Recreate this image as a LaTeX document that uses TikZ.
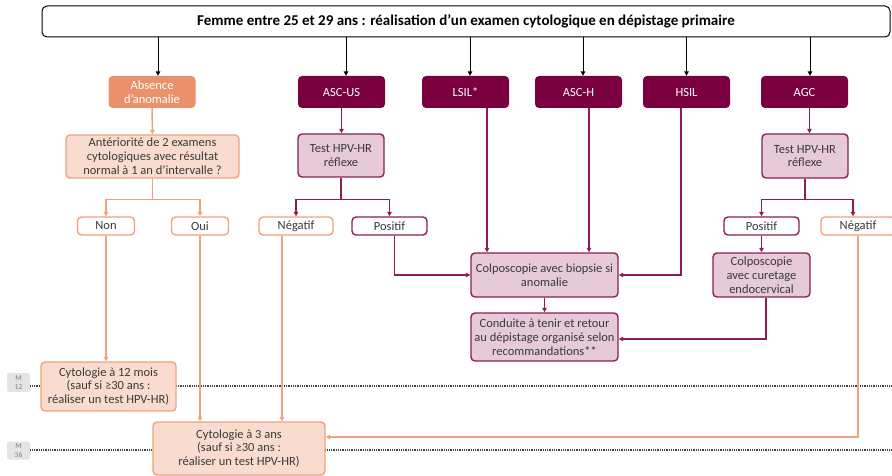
\documentclass[tikz,border=0pt]{standalone}
\usepackage{fontspec}
\setmainfont{Carlito}
\usetikzlibrary{arrows.meta,calc}
\definecolor{dpur}{HTML}{7A0040}
\definecolor{lpur}{HTML}{E6CAD8}
\definecolor{bpur}{HTML}{8C1D58}
\definecolor{org}{HTML}{E8916A}
\definecolor{lorg}{HTML}{F9DCCF}
\definecolor{borg}{HTML}{F0A27C}
\definecolor{txt}{HTML}{3A3A3A}
\definecolor{mgrey}{HTML}{E4E4E4}
\begin{document}
\begin{tikzpicture}[x=1pt,y=-1pt,
  box/.style={rectangle, rounded corners=4pt, inner sep=1pt, align=center, text=txt,
    font=\fontsize{12.5}{13.8}\selectfont},
  cat/.style={box, fill=dpur, text=white, minimum width=87, minimum height=32},
  orgbox/.style={box, fill=lorg, draw=borg, line width=1.4pt},
  purbox/.style={box, fill=lpur, draw=bpur, line width=1.4pt},
  orgw/.style={box, fill=white, draw=borg, line width=1.4pt, minimum height=18},
  purw/.style={box, fill=white, draw=bpur, line width=1.4pt, minimum height=18},
  tip/.style={-{Triangle[length=4.5pt,width=4.5pt]}},
  karr/.style={draw=black, line width=1pt, tip},
  oarr/.style={draw=borg, line width=1.5pt, tip},
  parr/.style={draw=bpur, line width=1.5pt, tip},
  mlab/.style={rectangle, rounded corners=2pt, fill=mgrey, text=gray, align=center,
    inner sep=0pt, minimum width=23, font=\fontsize{7.5}{8.5}\selectfont},
  dotline/.style={draw=black!75, line width=1.1pt, dash pattern=on 0.9pt off 0.9pt}
]
\useasboundingbox (0,0) rectangle (892,476);

% time lines
\node[mlab, minimum height=19] (m12) at (18.5,382.5) {M\\12};
\node[mlab, minimum height=18] (m36) at (18.5,450.5) {M\\36};
\coordinate (e12) at (892,386);
\coordinate (e36) at (892,450);
\draw[dotline] (m12.east |- e12) -- (e12);
\draw[dotline] (m36.east |- e36) -- (e36);

% header
\node[box, draw=black, line width=1pt, fill=white, rounded corners=5pt,
  minimum width=848, minimum height=31, text=black,
  font=\fontsize{15}{17}\selectfont\bfseries] (head) at (466,21.5)
  {Femme entre 25 et 29 ans : réalisation d’un examen cytologique en dépistage primaire};

% categories
\node[cat, fill=org, text=white] (abs) at (152,92) {Absence\\d’anomalie};
\node[cat] (ascus) at (341.5,92) {ASC-US};
\node[cat] (lsil) at (465.5,92) {LSIL*};
\node[cat] (asch) at (578.5,92) {ASC-H};
\node[cat] (hsil) at (686.5,92) {HSIL};
\node[cat] (agc) at (804.5,92) {AGC};

% left branch
\node[orgbox, minimum width=173, minimum height=43] (ant) at (152.5,156.5)
  {Antériorité de 2 examens\\cytologiques avec résultat\\normal à 1 an d’intervalle ?};
\node[orgw, minimum width=57] (non) at (106,226) {Non};
\node[orgw, minimum width=57] (oui) at (200,226) {Oui};
\node[orgbox, minimum width=135, minimum height=49] (cyt12) at (108.5,386.5)
  {Cytologie à 12 mois\\(sauf si ≥30 ans :\\réaliser un test HPV-HR)};
\node[orgbox, minimum width=172, minimum height=53] (cyt3) at (239,448.5)
  {Cytologie à 3 ans\\(sauf si ≥30 ans :\\réaliser un test HPV-HR)};

% ASC-US branch
\node[purbox, minimum width=86, minimum height=43] (hpv1) at (341,155.5) {Test HPV-HR\\réflexe};
\node[orgw, minimum width=74] (neg1) at (296,226) {Négatif};
\node[purw, minimum width=75] (pos1) at (389.5,226) {Positif};

% colposcopy
\node[purbox, minimum width=147, minimum height=44] (colpo) at (544.5,275)
  {Colposcopie avec biopsie si\\anomalie};
\node[purbox, minimum width=147, minimum height=48] (cond) at (544.5,337)
  {Conduite à tenir et retour\\au dépistage organisé selon\\recommandations**};

% AGC branch
\node[purbox, minimum width=86, minimum height=44] (hpv2) at (805,156) {Test HPV-HR\\réflexe};
\node[purw, minimum width=75] (pos2) at (761.5,226) {Positif};
\node[orgw, minimum width=74] (neg2) at (858,226) {Négatif};
\node[purbox, minimum width=97, minimum height=44] (colpo2) at (761.5,275)
  {Colposcopie\\avec curetage\\endocervical};

% header arrows
\draw[karr] ([xshift=6]abs.north |- head.south) -- ([xshift=6]abs.north);
\draw[karr] ([xshift=4.5]ascus.north |- head.south) -- ([xshift=4.5]ascus.north);
\draw[karr] ([xshift=4.5]lsil.north |- head.south) -- ([xshift=4.5]lsil.north);
\draw[karr] ([xshift=4.5]asch.north |- head.south) -- ([xshift=4.5]asch.north);
\draw[karr] (hsil.north |- head.south) -- (hsil.north);
\draw[karr] ([xshift=5.5]agc.north |- head.south) -- ([xshift=5.5]agc.north);

% left connectors
\draw[oarr] (abs.south) -- (ant.north);
\draw[oarr] (ant.south) -- ++(0,21) -| (non.north);
\draw[oarr] (ant.south) -- ++(0,21) -| (oui.north);
\draw[oarr] (non.south) -- (non.south |- cyt12.north);
\draw[oarr] (oui.south) -- (oui.south |- cyt3.north);

% ASC-US connectors
\draw[parr] (ascus.south) -- (ascus.south |- hpv1.north);
\draw[parr] (hpv1.south) -- ++(0,22) -| (neg1.north);
\draw[parr] (hpv1.south) -- ++(0,22) -| (pos1.north);
\draw[oarr] ([xshift=-14]neg1.south) -- ([xshift=-14]neg1.south |- cyt3.north);
\draw[parr] ([xshift=5]pos1.south) |- (colpo.west);

% colposcopy connectors
\draw[parr] ([xshift=21.5]lsil.south) -- ([xshift=21.5]lsil.south |- colpo.north);
\draw[parr] ([xshift=10.5]asch.south) -- ([xshift=10.5]asch.south |- colpo.north);
\draw[parr] ([xshift=-5.5]hsil.south) |- (colpo.east);
\draw[parr] (colpo.south) -- (cond.north);

% AGC connectors
\draw[parr] ([xshift=5]agc.south) -- ([xshift=5]agc.south |- hpv2.north);
\draw[parr] (hpv2.south) -- ++(0,21) -| (pos2.north);
\draw[parr] (hpv2.south) -- ++(0,21) -| ([xshift=-5]neg2.north);
\draw[parr] (pos2.south) -- (colpo2.north);
\draw[parr] ([xshift=4.5]colpo2.south) |- ([yshift=-2]cond.east);
\draw[oarr] (neg2.south) |- ([yshift=11.5]cyt3.east);
\end{tikzpicture}
\end{document}
